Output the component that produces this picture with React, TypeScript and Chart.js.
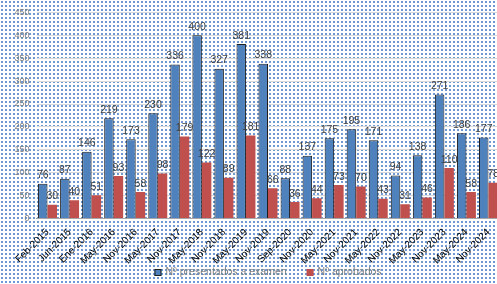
import React, { useEffect, useRef } from "react";
import { Chart, registerables } from "chart.js";

Chart.register(...registerables);

const categories = [
  "Feb-2015", "Jun-2015", "Ene-2016", "May-2016", "Nov-2016", "May-2017", "Nov-2017",
  "May-2018", "Nov-2018", "May-2019", "Nov-2019", "Sep-2020", "Nov-2020", "May-2021",
  "Nov-2021", "May-2022", "Nov-2022", "May-2023", "Nov-2023", "May-2024", "Nov-2024",
];
const presentados = [76, 87, 146, 219, 173, 230, 336, 400, 327, 381, 338, 88, 137, 175, 195, 171, 94, 138, 271, 186, 177];
const aprobados = [30, 40, 51, 93, 58, 98, 179, 122, 89, 181, 66, 36, 44, 73, 70, 43, 31, 46, 110, 58, 78];
const seriesNames = ["Nº presentados a examen", "Nº aprobados"];

const FONT = "'Liberation Sans', Arial, sans-serif";

const bgPlugin = {
  id: "dottedBg",
  beforeDraw(chart: any) {
    const { ctx, width, height } = chart;
    const tile = document.createElement("canvas");
    tile.width = 4;
    tile.height = 4;
    const t = tile.getContext("2d")!;
    t.fillStyle = "#ffffff";
    t.fillRect(0, 0, 4, 4);
    t.fillStyle = "#7099d3";
    t.fillRect(1, 1, 2, 2);
    ctx.save();
    ctx.fillStyle = ctx.createPattern(tile, "repeat");
    ctx.fillRect(0, 0, width, height);
    ctx.restore();
  },
};

const labelPlugin = {
  id: "valueLabels",
  afterDatasetsDraw(chart: any) {
    const { ctx } = chart;
    ctx.save();
    ctx.font = `10.5px ${FONT}`;
    ctx.fillStyle = "#404040";
    ctx.textAlign = "center";
    ctx.textBaseline = "bottom";
    chart.data.datasets.forEach((ds: any, i: number) => {
      const meta = chart.getDatasetMeta(i);
      meta.data.forEach((el: any, j: number) => {
        ctx.fillText(String(ds.data[j]), el.x, el.y - 3);
      });
    });
    ctx.restore();
  },
};

const legendPlugin = {
  id: "customLegend",
  afterDraw(chart: any) {
    const { ctx, chartArea } = chart;
    ctx.save();
    ctx.font = `10.5px ${FONT}`;
    ctx.textBaseline = "middle";
    const box = 7;
    const gap = 4;
    const itemGap = 20;
    const widths = seriesNames.map((n) => ctx.measureText(n).width);
    const total = box + gap + widths[0] + itemGap + box + gap + widths[1];
    let x = (chartArea.left + chartArea.right) / 2 - total / 2;
    const y = 272.5;
    const colors = ["#4f81bd", "#c0504d"];
    seriesNames.forEach((name, i) => {
      ctx.fillStyle = colors[i];
      ctx.fillRect(x, y - box / 2, box, box);
      if (i === 0) {
        ctx.strokeStyle = "#1f1f1f";
        ctx.lineWidth = 1;
        ctx.strokeRect(x + 0.5, y - box / 2 + 0.5, box - 1, box - 1);
      }
      x += box + gap;
      ctx.fillStyle = "#7f7f7f";
      ctx.textAlign = "left";
      ctx.fillText(name, x, y);
      x += widths[i] + itemGap;
    });
    ctx.restore();
  },
};

export default function App() {
  const ref = useRef<HTMLCanvasElement>(null);
  useEffect(() => {
    const chart = new Chart(ref.current!, {
      type: "bar",
      data: {
        labels: categories,
        datasets: [
          {
            label: seriesNames[0],
            data: presentados,
            backgroundColor: "#4f81bd",
            borderColor: "#1f1f1f",
            borderWidth: 1,
            categoryPercentage: 0.86,
            barPercentage: 1.0,
          },
          {
            label: seriesNames[1],
            data: aprobados,
            backgroundColor: "#c0504d",
            borderWidth: 0,
            categoryPercentage: 0.86,
            barPercentage: 1.0,
          },
        ],
      },
      options: {
        responsive: false,
        animation: false,
        layout: { padding: { top: 12, right: 1.5, bottom: 0.5, left: 0 } },
        plugins: { legend: { display: false }, tooltip: { enabled: false } },
        scales: {
          x: {
            grid: { display: false },
            border: { display: true, color: "#a6a6a6" },
            ticks: {
              autoSkip: false,
              minRotation: 45,
              maxRotation: 45,
              color: "#000000",
              font: { family: FONT, size: 10 },
              padding: 0,
            },
            afterFit(scale: any) {
              scale.height = 65;
            },
          },
          y: {
            min: 0,
            max: 450,
            ticks: {
              stepSize: 50,
              color: "#7f7f7f",
              font: { family: FONT, size: 9 },
              padding: 7,
            },
            grid: { color: "#d9d9d9", drawTicks: false },
            border: { display: false },
            afterFit(scale: any) {
              scale.width = 36.5;
            },
          },
        },
      },
      plugins: [bgPlugin, labelPlugin, legendPlugin],
    });
    return () => chart.destroy();
  }, []);
  return (
    <div style={{ position: "fixed", left: 0, top: 0, width: 497, height: 284, overflow: "hidden" }}>
      <canvas ref={ref} width={501} height={284} style={{ width: 501, height: 284, display: "block" }} />
    </div>
  );
}
